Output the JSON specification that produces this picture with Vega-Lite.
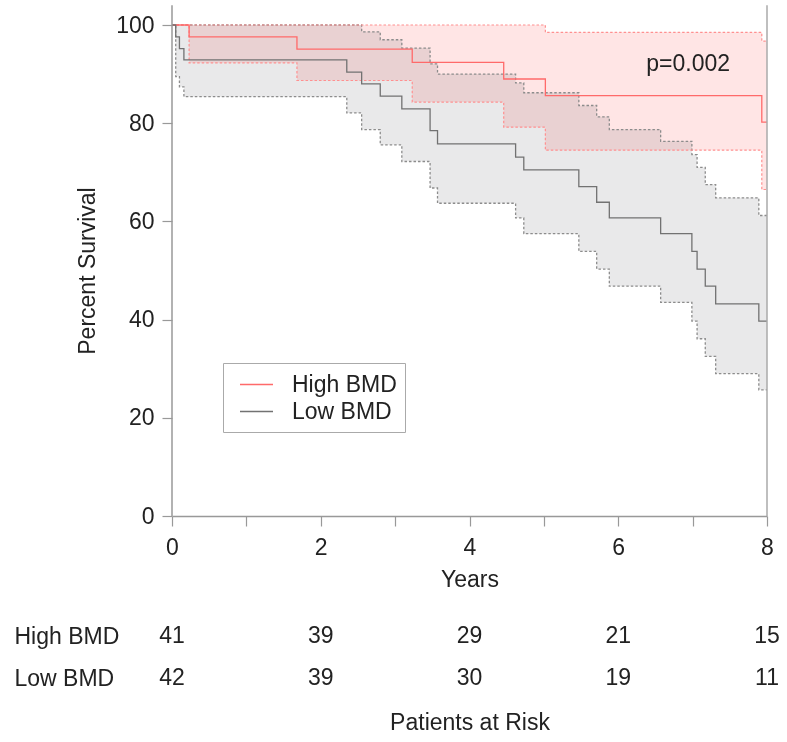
{
  "$schema": "https://vega.github.io/schema/vega-lite/v6.json",
  "padding": {"left": 14, "top": 4, "right": 5, "bottom": 5},
  "bounds": "flush",
  "spacing": 99,
  "config": {
    "font": "Liberation Sans",
    "view": {"stroke": null},
    "axis": {
      "labelFont": "Liberation Sans", "titleFont": "Liberation Sans",
      "labelFontSize": 23, "titleFontSize": 23, "titleFontWeight": "normal",
      "labelColor": "#222", "titleColor": "#222", "grid": false,
      "domainColor": "#999", "domainWidth": 1.5, "tickColor": "#999", "tickWidth": 1.2, "tickSize": 10
    },
    "axisX": {"tickCount": 8, "labelFlush": false, "labelPadding": 10, "titlePadding": 9, "labelOverlap": false, "labelExpr": "datum.value % 2 === 0 ? datum.label : ''"},
    "axisY": {"tickCount": 5, "domain": false, "labelPadding": 8, "titlePadding": 16},
    "legend": {
      "labelFont": "Liberation Sans", "labelFontSize": 23, "labelColor": "#222",
      "symbolType": "M-0.36,0H2.28", "symbolSize": 625, "symbolStrokeWidth": 1.5,
      "strokeColor": "#aaa", "fillColor": "white", "padding": 8, "rowPadding": 1, "labelOffset": 34
    }
  },
  "datasets": {
    "km": [
      {"group": "High BMD", "t": 0, "s": 100, "lo": 100, "hi": 100},
      {"group": "High BMD", "t": 0.23, "s": 97.6, "lo": 92.3, "hi": 100},
      {"group": "High BMD", "t": 1.68, "s": 95.1, "lo": 88.7, "hi": 100},
      {"group": "High BMD", "t": 3.23, "s": 92.4, "lo": 84.3, "hi": 100},
      {"group": "High BMD", "t": 4.46, "s": 89.0, "lo": 79.2, "hi": 100},
      {"group": "High BMD", "t": 5.02, "s": 85.6, "lo": 74.5, "hi": 98.5},
      {"group": "High BMD", "t": 7.93, "s": 80.2, "lo": 66.5, "hi": 96.7},
      {"group": "High BMD", "t": 8, "s": 80.2, "lo": 66.5, "hi": 96.7},
      {"group": "Low BMD", "t": 0, "s": 100, "lo": 100, "hi": 100},
      {"group": "Low BMD", "t": 0.05, "s": 97.6, "lo": 89.5, "hi": 100},
      {"group": "Low BMD", "t": 0.1, "s": 95.2, "lo": 87.4, "hi": 100},
      {"group": "Low BMD", "t": 0.16, "s": 92.9, "lo": 85.4, "hi": 100},
      {"group": "Low BMD", "t": 2.35, "s": 90.4, "lo": 82.1, "hi": 100},
      {"group": "Low BMD", "t": 2.55, "s": 88.0, "lo": 78.7, "hi": 98.6},
      {"group": "Low BMD", "t": 2.8, "s": 85.5, "lo": 75.6, "hi": 97.0},
      {"group": "Low BMD", "t": 3.09, "s": 82.9, "lo": 72.2, "hi": 95.3},
      {"group": "Low BMD", "t": 3.47, "s": 78.5, "lo": 66.8, "hi": 92.1},
      {"group": "Low BMD", "t": 3.57, "s": 75.8, "lo": 63.7, "hi": 90.0},
      {"group": "Low BMD", "t": 4.62, "s": 73.1, "lo": 60.7, "hi": 88.2},
      {"group": "Low BMD", "t": 4.73, "s": 70.5, "lo": 57.5, "hi": 86.2},
      {"group": "Low BMD", "t": 5.47, "s": 67.1, "lo": 53.9, "hi": 83.6},
      {"group": "Low BMD", "t": 5.71, "s": 63.9, "lo": 50.3, "hi": 81.3},
      {"group": "Low BMD", "t": 5.88, "s": 60.7, "lo": 46.8, "hi": 78.7},
      {"group": "Low BMD", "t": 6.57, "s": 57.5, "lo": 43.5, "hi": 76.3},
      {"group": "Low BMD", "t": 6.99, "s": 53.9, "lo": 39.7, "hi": 73.6},
      {"group": "Low BMD", "t": 7.06, "s": 50.3, "lo": 36.1, "hi": 71.0},
      {"group": "Low BMD", "t": 7.17, "s": 46.8, "lo": 32.5, "hi": 67.5},
      {"group": "Low BMD", "t": 7.31, "s": 43.2, "lo": 29.0, "hi": 64.8},
      {"group": "Low BMD", "t": 7.89, "s": 39.7, "lo": 25.7, "hi": 61.2},
      {"group": "Low BMD", "t": 8, "s": 39.7, "lo": 25.7, "hi": 61.2}
    ],
    "risk": [
      {"group": "High BMD", "t": 0, "n": 41},
      {"group": "High BMD", "t": 2, "n": 39},
      {"group": "High BMD", "t": 4, "n": 29},
      {"group": "High BMD", "t": 6, "n": 21},
      {"group": "High BMD", "t": 8, "n": 15},
      {"group": "Low BMD", "t": 0, "n": 42},
      {"group": "Low BMD", "t": 2, "n": 39},
      {"group": "Low BMD", "t": 4, "n": 30},
      {"group": "Low BMD", "t": 6, "n": 19},
      {"group": "Low BMD", "t": 8, "n": 11}
    ]
  },
  "vconcat": [
    {
      "width": 595,
      "height": 491,
      "layer": [
        {
          "data": {"name": "km"},
          "transform": [{"filter": "datum.group === 'Low BMD'"}],
          "mark": {"type": "area", "interpolate": "step-after", "color": "#e9e9ea"},
          "encoding": {
            "x": {"field": "t", "type": "quantitative", "title": "Years", "scale": {"domain": [0, 8], "nice": false}},
            "y": {"field": "lo", "type": "quantitative", "title": "Percent Survival", "scale": {"domain": [0, 100], "nice": false}},
            "y2": {"field": "hi"}
          }
        },
        {
          "data": {"name": "km"},
          "transform": [{"filter": "datum.group === 'High BMD'"}],
          "mark": {"type": "area", "interpolate": "step-after", "color": "#ffe5e5", "blend": "multiply"},
          "encoding": {
            "x": {"field": "t", "type": "quantitative", "title": "Years", "scale": {"domain": [0, 8], "nice": false}},
            "y": {"field": "lo", "type": "quantitative", "title": "Percent Survival", "scale": {"domain": [0, 100], "nice": false}},
            "y2": {"field": "hi"}
          }
        },
        {
          "data": {"name": "km"},
          "transform": [{"filter": "datum.group === 'Low BMD'"}, {"fold": ["lo", "hi"], "as": ["bound", "v"]}],
          "mark": {"type": "line", "interpolate": "step-after", "color": "#8c8c8c", "strokeWidth": 1.3, "strokeDash": [2.5, 2]},
          "encoding": {
            "x": {"field": "t", "type": "quantitative", "title": "Years", "scale": {"domain": [0, 8], "nice": false}},
            "y": {"field": "v", "type": "quantitative", "title": "Percent Survival", "scale": {"domain": [0, 100], "nice": false}},
            "detail": {"field": "bound"}
          }
        },
        {
          "data": {"name": "km"},
          "transform": [{"filter": "datum.group === 'High BMD'"}, {"fold": ["lo", "hi"], "as": ["bound", "v"]}],
          "mark": {"type": "line", "interpolate": "step-after", "color": "#ff9090", "strokeWidth": 1.2, "strokeDash": [2.5, 2]},
          "encoding": {
            "x": {"field": "t", "type": "quantitative", "title": "Years", "scale": {"domain": [0, 8], "nice": false}},
            "y": {"field": "v", "type": "quantitative", "title": "Percent Survival", "scale": {"domain": [0, 100], "nice": false}},
            "detail": {"field": "bound"}
          }
        },
        {
          "data": {"name": "km"},
          "mark": {"type": "line", "interpolate": "step-after", "strokeWidth": 1.3},
          "encoding": {
            "x": {"field": "t", "type": "quantitative", "title": "Years", "scale": {"domain": [0, 8], "nice": false}},
            "y": {"field": "s", "type": "quantitative", "title": "Percent Survival", "scale": {"domain": [0, 100], "nice": false}},
            "color": {
              "field": "group", "type": "nominal",
              "scale": {"domain": ["High BMD", "Low BMD"], "range": ["#ff6a6a", "#727272"]},
              "legend": {"title": null, "orient": "none", "legendX": 51, "legendY": 338}
            }
          }
        },
        {
          "data": {"values": [{}]},
          "mark": {"type": "rule", "color": "#999", "strokeWidth": 1.5},
          "encoding": {
            "x": {"datum": 0, "type": "quantitative", "scale": {"domain": [0, 8], "nice": false}},
            "y": {"datum": 0, "type": "quantitative", "scale": {"domain": [0, 100], "nice": false}},
            "y2": {"datum": 104}
          }
        },
        {
          "data": {"values": [{}]},
          "mark": {"type": "rule", "color": "#aaa", "strokeWidth": 1.5},
          "encoding": {
            "x": {"datum": 8, "type": "quantitative", "scale": {"domain": [0, 8], "nice": false}},
            "y": {"datum": 0, "type": "quantitative", "scale": {"domain": [0, 100], "nice": false}},
            "y2": {"datum": 104}
          }
        },
        {
          "data": {"values": [{}]},
          "mark": {"type": "text", "text": "p=0.002", "fontSize": 23, "color": "#222", "font": "Liberation Sans"},
          "encoding": {
            "x": {"datum": 6.94, "type": "quantitative", "scale": {"domain": [0, 8], "nice": false}},
            "y": {"datum": 92.1, "type": "quantitative", "scale": {"domain": [0, 100], "nice": false}}
          }
        }
      ]
    },
    {
      "width": 595,
      "height": 84,
      "data": {"name": "risk"},
      "mark": {"type": "text", "fontSize": 23, "color": "#222", "font": "Liberation Sans"},
      "encoding": {
        "x": {
          "field": "t", "type": "quantitative",
          "scale": {"domain": [0, 8], "nice": false},
          "axis": {"title": "Patients at Risk", "domain": false, "ticks": false, "labels": false, "titlePadding": 12}
        },
        "y": {
          "field": "group", "type": "nominal", "sort": ["High BMD", "Low BMD"],
          "axis": {"title": null, "labelAlign": "left", "labelPadding": 158, "ticks": false, "tickSize": 0, "domain": false}
        },
        "text": {"field": "n", "type": "quantitative"}
      }
    }
  ]
}
